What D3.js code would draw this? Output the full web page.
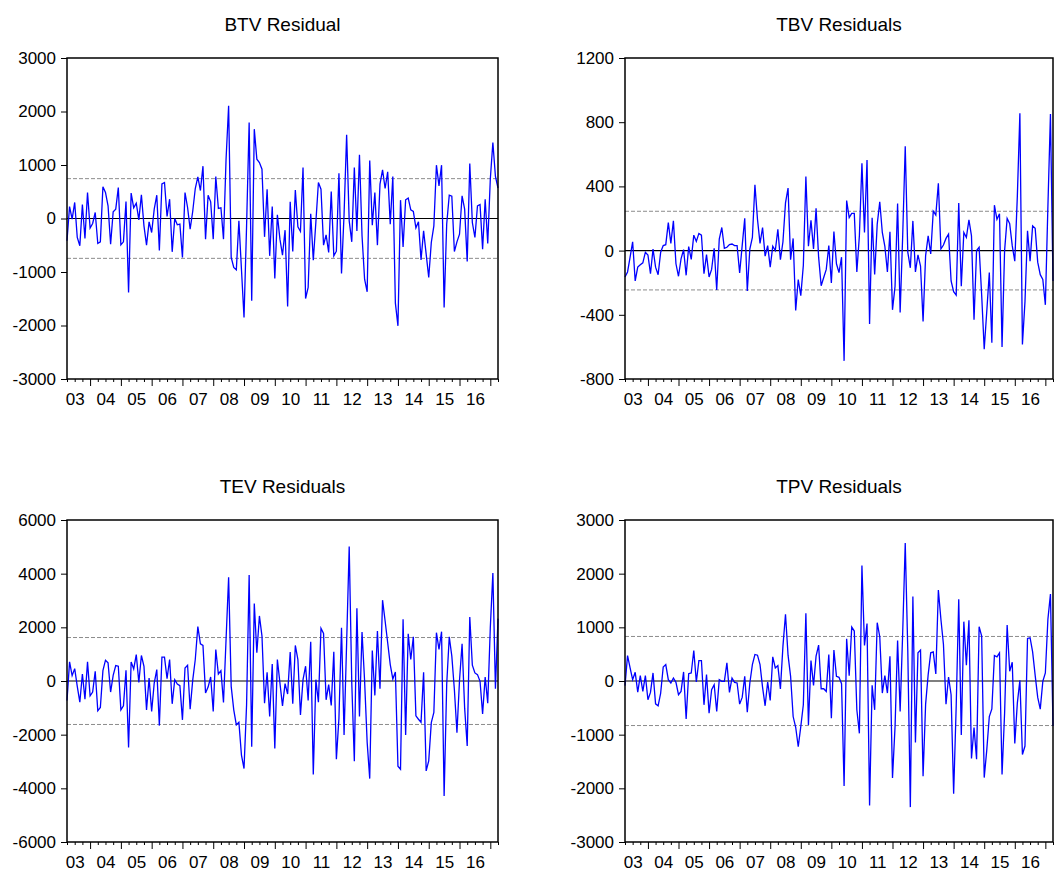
<!DOCTYPE html>
<html>
<head>
<meta charset="utf-8">
<script src="https://cdnjs.cloudflare.com/ajax/libs/d3/7.8.5/d3.min.js"></script>
<style>
  body { margin: 0; background: #fff; }
  svg { display: block; font-family: "Liberation Sans", Arial, sans-serif; }
</style>
</head>
<body>
<div id="resid"></div>
<script>
// monthly residuals, 2003M04 - 2017M04
const startYear = 2003;
const startMonth = 4;

const btv = [-417, 224, -12, 300, -355, -510, 262, -374, 486, -180,
  -93, 112, -467, -436, 592, 486, 237, -480, 125, 174,
  580, -492, -436, 318, -1383, 474, 200, 287, -25, 442,
  -137, -498, -62, -262, 174, 436, -598, 648, 673, 37,
  361, -623, 0, -118, -106, -729, 486, 206, -199, 131,
  561, 779, 523, 978, -386, 436, 312, -386, 785, 187,
  200, -386, 1109, 2106, -729, -916, -960, -44, -947, -1850,
  -137, 1794, -1539, 1670, 1109, 1047, 922, -343, 548, -698,
  224, -1121, 69, -386, -685, -218, -1645, 312, -617, 530,
  -156, -243, 953, -1495, -1290, 87, -779, -75, 673,
  548, -498, -305, -636, 505, -698, -611, 847, -1028, 81,
  1564, -44, -436, 953, -231, 1190, -324, -1134, -1371, 1084,
  -125, 486, -498, 642, 910, 561, 872, -106, 785, -1583,
  -2006, 343, -530, 349, 380, 162, 131, -174, -62, -773,
  -231, -667, -1103, -449, -137, 997, 611, 997, -1664, -106,
  436, 417, -617, -436, -293, 424, 174, -804, 1028, -75,
  -355, 237, 262, -573, 361, -467, 735, 1421, 785, 570];

const tbv = [-164, -133, -41, 55, -189, -103, -88, -76, -10, -27,
  -144, 10, -103, -150, -10, 31, 37, 174, 45, 185,
  -82, -160, -51, 6, -154, 25, -55, 96, 57, 107,
  96, -144, -25, -164, -117, 14, -246, 72, 144, 14,
  21, 37, 41, 31, 31, -139, 31, 201, -252, 10,
  82, 410, 195, 45, 144, -35, 31, -103, 27, 0,
  133, -57, 55, 297, 390, -57, 76, -373, -180, -281,
  -92, 461, 27, 189, 10, 263, -41, -219, -168, -117,
  31, -201, 119,
  -82, -137, -41, -687, 312, 205, 232, 232, -133, 92,
  544, 113, 564, -457, 205, -148, 164, 304, 113, 27,
  -133, 117, -369, -222, 293, -386, 92, 650, -10, -107,
  185, -133, -27, -96, -441, -31, 92, -21, 246, 222,
  420, 10, 35, 76, 103, -189, -256, -277, 297, -222,
  113, 82, 191, 92, -431, 0, 21, -277, -615, -379,
  -137, -574, 283, 195, 230, -601, 0, 201, 168, 31,
  -66, 338, 855, -585, -318, 123, -66, 154, 139, -72,
  -150, -180, -338, 277, 851, -189];

const tev = [-725, 712, 200, 462, -200, -787, 262, -675, 712, -550,
  -412, 362, -1112, -987, 387, 775, 675, -412, 212, 575,
  550, -1075, -925, 400, -2475, 712, 450, 987, -50, 950,
  550, -1075, 112, -1137, -75, 425, -1662, 887, 887, 87,
  800, -850, 50, -112, -175, -1450, 487, 587, -1050, 25,
  800, 2025, 1387, 1325, -450, -225, 150, -1137, 1175, 262,
  387, -800, 1550, 3862, -200, -1075, -1637, -1537, -2762, -3262,
  -887, 3950, -2450, 2887, 1050, 2425, 1675, -825, 325, -1325,
  637, -2512, 800, -75, -925, -100, -487, 1075, -850, 1325,
  800, -1262, 50, 550, -725, 1462, -3487, 50, -787, 1962,
  1775, -700, -137, -912, 1087, -2912, -1387, 1987, -2012, 1425,
  5012, -75, -2987, 2712, -1325, 1825, 12, -2287, -3637, 1137,
  -537, 1862, -287, 3012, 2237, 1425, 612, 75, 337, -3175,
  -3287, 2300, -2012, 1762, 800, 1650, -1300, -1425, -1537, 325,
  -3350, -2975, -1550, -1175, 1800, 1175, 1837, -4287, -137, 1650,
  925, -325, -1925, 25, 1387, -1012, -2425, 2387, 587, 300,
  237, -12, -1225, 150, -825, 1987, 4025, -287, 2325];

const tpv = [-87, 475, 244, 25, 162, -206, 100, -194, 100, -350,
  -212, 150, -425, -462, -225, 262, 306, 25, -37, 56,
  -25, -256, -194, 169, -706, 137, 150, 569, -19, 381,
  381, -444, 119, -600, -162, -69, -569, 25, -6, -6,
  337, -212, 56, -25, -37, -431, -306, 87, -581, -37,
  306, 494, 481, 306, -119, -462, -19, -362, 450, 244,
  287, -150, 650, 1244, 481, 87, -662, -862, -1225, -850,
  -444, 1262, -819, 381, -81, 462, 669, -144, -144, -194,
  494, -694, 575,
  87, 69, -50, -1956, 787, 100, 1006, 931, -537, -975,
  2150, 662, 1069, -2319, -81, -537, 1087, 825, -225, 100,
  -225, 462, -1806, -850, 756, -569, 900, 2569, 569, -2350,
  1575, -1144, 525, 575, -1775, -431, 119, 525, 544, 131,
  1694, 1150, 681, -431, 75, -256, -2100, -475, 1525, -1006,
  1106, 294, 1131, -1444, -869, -1456, 1012, 837, -1800, -1287,
  -662, -519, 475, 450, 525, -1744, -600, 1044, 181, 350,
  -1162, -412, 12, -1369, -1212, 794, 806, 544, 106, -306,
  -525, -6, 150, 1150, 1619, -837];

const series = [btv, tbv, tev, tpv];
const titles = ['BTV Residual', 'TBV Residuals', 'TEV Residuals', 'TPV Residuals'];
const yTicks = [
  [-3000, -2000, -1000, 0, 1000, 2000, 3000],
  [-800, -400, 0, 400, 800, 1200],
  [-6000, -4000, -2000, 0, 2000, 4000, 6000],
  [-3000, -2000, -1000, 0, 1000, 2000, 3000]
];
const bands = [745, 245, 1620, 830];

(function() {

  const svgSize = { x: 1054, y: 873 };

  const panelPos = [
    { x: 67, y: 58, w: 431, h: 321 },
    { x: 625, y: 58, w: 428, h: 321 },
    { x: 67, y: 520, w: 431, h: 322 },
    { x: 625, y: 520, w: 428, h: 322 }
  ];

  let svg = d3.select('#resid')
    .append('svg')
    .attr('width', svgSize.x)
    .attr('height', svgSize.y);

  series.forEach((data, k) => {
    const pos = panelPos[k];
    const n = data.length;

    // month index -> calendar month
    const monthOf = i => (startMonth - 1 + i) % 12;
    const yearOf = i => startYear + Math.floor((startMonth - 1 + i) / 12);
    const idx = d3.range(n);
    const majorIdx = idx.filter(i => monthOf(i) == 0);
    const minorIdx = idx.filter(i => monthOf(i) % 3 == 0 && monthOf(i) != 0);
    const labelIdx = idx.filter(i => monthOf(i) == 6);

    let xScale = d3.scaleLinear()
      .domain([0, n - 1])
      .range([0, pos.w]);

    let yScale = d3.scaleLinear()
      .domain(d3.extent(yTicks[k]))
      .range([pos.h, 0]);

    let g = svg.append('g')
      .attr('transform', `translate(${pos.x}, ${pos.y})`);

    g.append('text')
      .attr('x', pos.w / 2)
      .attr('y', -27)
      .attr('text-anchor', 'middle')
      .attr('font-size', 19)
      .attr('fill', '#000')
      .text(titles[k]);

    // bands
    [bands[k], -bands[k]].forEach(v => {
      g.append('line')
        .attr('x1', 0)
        .attr('x2', pos.w)
        .attr('y1', yScale(v))
        .attr('y2', yScale(v))
        .attr('stroke', '#8c8c8c')
        .attr('stroke-width', 1)
        .attr('stroke-dasharray', '4,2');
    });

    g.append('line')
      .attr('x1', 0)
      .attr('x2', pos.w)
      .attr('y1', yScale(0))
      .attr('y2', yScale(0))
      .attr('stroke', '#000')
      .attr('stroke-width', 1.2);

    let valueLine = d3.line()
      .x((d, i) => xScale(i))
      .y(d => yScale(d));

    g.append('path')
      .datum(data)
      .attr('d', valueLine)
      .attr('fill', 'none')
      .attr('stroke', '#0000ff')
      .attr('stroke-width', 1.3);

    // y axis, plain hyphen for negatives
    let yAxis = g.append('g')
      .call(d3.axisLeft(yScale).tickValues(yTicks[k]).tickSize(6).tickPadding(5).tickFormat(d => String(d)));
    yAxis.attr('font-size', 17).attr('font-family', null);

    // x axis: quarter ticks, year ticks, year labels
    let xMinor = g.append('g')
      .attr('transform', `translate(0, ${pos.h})`)
      .call(d3.axisBottom(xScale).tickValues(minorIdx).tickSize(3).tickFormat(''));
    let xMajor = g.append('g')
      .attr('transform', `translate(0, ${pos.h})`)
      .call(d3.axisBottom(xScale).tickValues(majorIdx).tickSize(7).tickFormat(''));
    let xLabels = g.append('g')
      .attr('transform', `translate(0, ${pos.h})`)
      .call(d3.axisBottom(xScale).tickValues(labelIdx).tickSize(0).tickPadding(14)
        .tickFormat(i => String(yearOf(i) % 100).padStart(2, '0')));
    xLabels.attr('font-size', 17).attr('font-family', null);
    xLabels.selectAll('line').remove();

    [yAxis, xMinor, xMajor, xLabels].forEach(a => a.select('.domain').remove());
    g.selectAll('.tick line').attr('stroke', '#000').attr('stroke-width', 1);
    g.selectAll('.tick text').attr('fill', '#000');

    g.append('rect')
      .attr('x', 0)
      .attr('y', 0)
      .attr('width', pos.w)
      .attr('height', pos.h)
      .attr('fill', 'none')
      .attr('stroke', '#000')
      .attr('stroke-width', 1.5);
  });
}());
</script>
</body>
</html>
